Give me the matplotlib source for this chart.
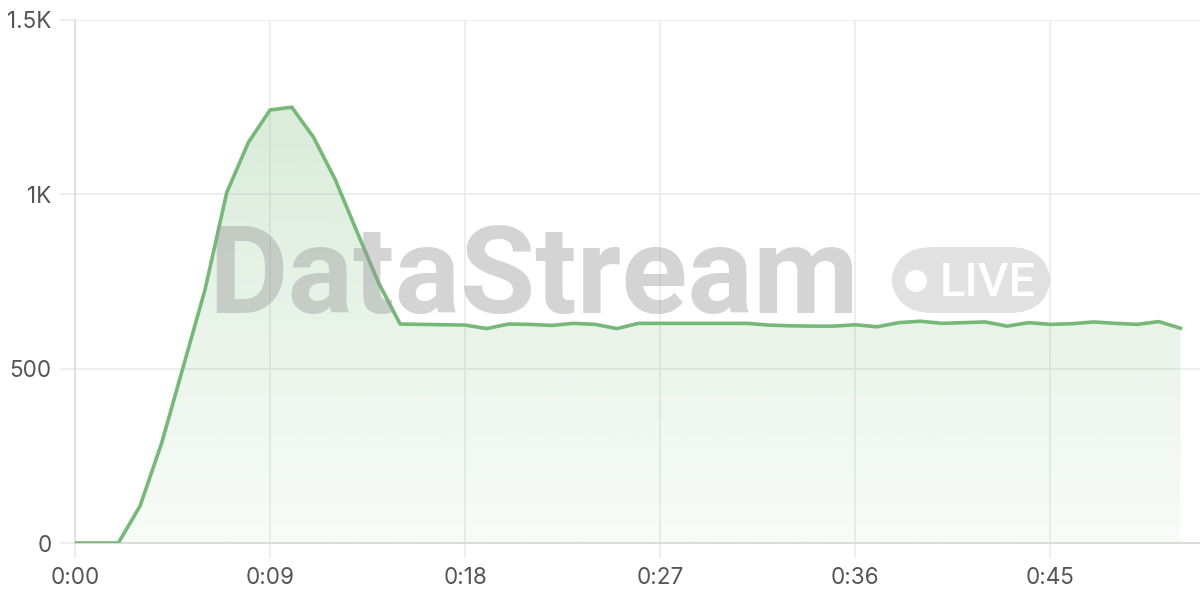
import numpy as np
import matplotlib.pyplot as plt
from matplotlib.patches import FancyBboxPatch, Ellipse
from matplotlib.colors import to_rgb

plt.rcParams['font.family'] = ['Inter', 'DejaVu Sans']

# seconds since start, one sample per second
seconds = list(range(52))
values = [0, 0, 0, 106, 287, 507, 727, 1005, 1149, 1242,
          1250, 1164, 1043, 894, 747, 628, 627, 626, 625, 615,
          628, 627, 624, 630, 627, 615, 630, 630, 630, 630,
          630, 630, 625, 623, 622, 622, 626, 620, 632, 636,
          630, 632, 634, 622, 632, 627, 629, 634, 630, 627,
          635, 616]

x_ticks = [0, 9, 18, 27, 36, 45]
x_labels = ['0:00', '0:09', '0:18', '0:27', '0:36', '0:45']
y_ticks = [0, 500, 1000, 1500]
y_labels = ['0', '500', '1K', '1.5K']

line_color = '#76b878'
grid_color = '#ebebeb'
label_color = '#555555'

fig = plt.figure(figsize=(12, 6), dpi=100)
ax = fig.add_axes([75 / 1200, 57 / 600, 1125 / 1200, 523 / 600])

x = np.array(seconds, dtype=float)
y = np.array(values, dtype=float)

# gradient fill under the line, clipped to the area polygon
fill = ax.fill_between(x, y, 0, color='none', lw=0)
r, g, b = to_rgb(line_color)
grad = np.zeros((256, 1, 4))
grad[:, 0, 0], grad[:, 0, 1], grad[:, 0, 2] = r, g, b
grad[:, 0, 3] = np.linspace(0.05, 0.32, 256)
img = ax.imshow(grad, aspect='auto', origin='lower',
                extent=[0, 52, 0, 1500], zorder=1)
img.set_clip_path(fill.get_paths()[0], transform=ax.transData)

ax.plot(x, y, color=line_color, lw=2.6, zorder=5, solid_joinstyle='round')

ax.set_xlim(0, 51.9)
ax.set_ylim(0, 1500)
ax.set_xticks(x_ticks, x_labels)
ax.set_yticks(y_ticks, y_labels)
ax.grid(True, color=grid_color, lw=1.2, zorder=0)
ax.set_axisbelow(True)
ax.tick_params(axis='both', length=11, width=1.2, color=grid_color,
               labelsize=16.2, labelcolor=label_color)
ax.tick_params(axis='x', pad=6)
ax.tick_params(axis='y', pad=6)
for side in ['top', 'right']:
    ax.spines[side].set_visible(False)
ax.spines['left'].set_color('#dcdcdc')
ax.spines['bottom'].set_color('#d6d6d6')
ax.spines['left'].set_linewidth(1.2)
ax.spines['bottom'].set_linewidth(1.2)

# watermark
W, H = 1200, 600
fig.text(208 / W, 1 - 313 / H, 'DataStream', fontsize=88, fontweight='bold',
         family='Roboto', color='#9a9a9a', alpha=0.42,
         va='baseline', ha='left', zorder=3)
badge = FancyBboxPatch((891 / W, 1 - 313 / H), 160 / W, 66 / H,
                       boxstyle='round,pad=0,rounding_size=0.035',
                       transform=fig.transFigure, facecolor='#bdbdbd',
                       alpha=0.45, edgecolor='none', zorder=3,
                       mutation_aspect=2)
fig.add_artist(badge)
fig.add_artist(Ellipse((916 / W, 1 - 281 / H), 22 / W, 22 / H,
                       transform=fig.transFigure,
                       facecolor='white', edgecolor='none', zorder=4))
fig.text(940 / W, 1 - 296 / H, 'LIVE', fontsize=34, fontweight='medium',
         family='Roboto', color='white', va='baseline', ha='left', zorder=4)

fig.savefig('out.png', dpi=100)
